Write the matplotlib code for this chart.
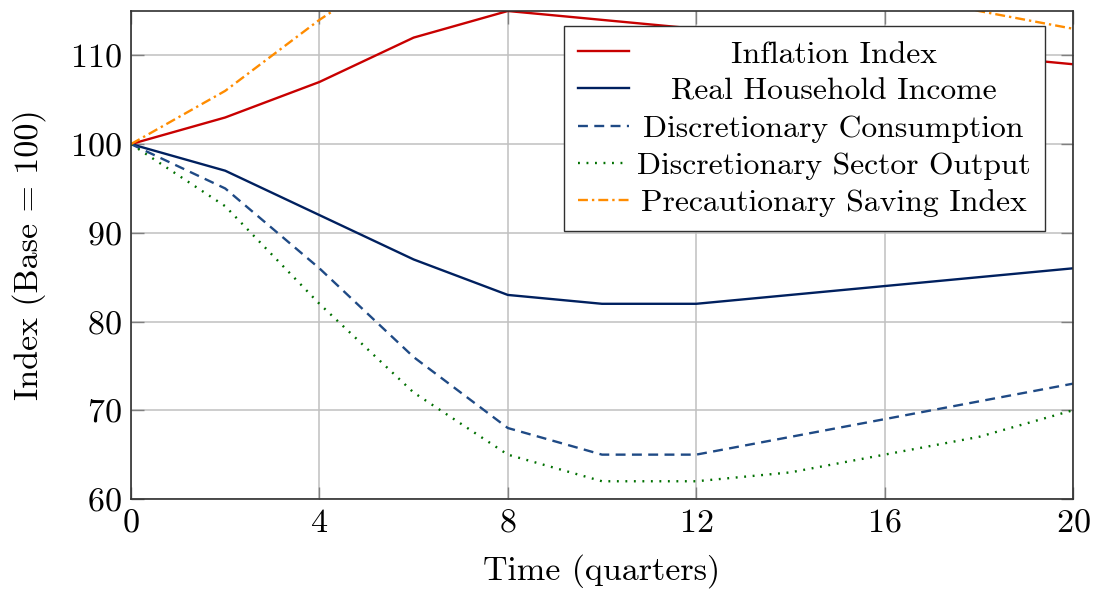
import matplotlib
matplotlib.use("Agg")
import matplotlib.pyplot as plt

# quarters and index values
quarters = [0, 2, 4, 6, 8, 10, 12, 14, 16, 18, 20]
inflation = [100, 103, 107, 112, 115, 114, 113, 112, 111, 110, 109]
real_income = [100, 97, 92, 87, 83, 82, 82, 83, 84, 85, 86]
disc_consumption = [100, 95, 86, 76, 68, 65, 65, 67, 69, 71, 73]
sector_output = [100, 93, 82, 72, 65, 62, 62, 63, 65, 67, 70]
precaution = [100, 106, 114, 121, 125, 126, 125, 122, 118, 115, 113]

plt.rcParams['font.family'] = ['cmr10', 'DejaVu Serif']
plt.rcParams['mathtext.fontset'] = 'cm'
plt.rcParams['axes.formatter.use_mathtext'] = True
plt.rcParams['font.size'] = 24.5

fig = plt.figure(figsize=(10.93, 5.90), dpi=100)
ax = fig.add_axes([131 / 1093, 91 / 590, 942 / 1093, 488 / 590])

lw = 1.7
ax.plot(quarters, inflation, color='#c80000', lw=lw, label='Inflation Index')
ax.plot(quarters, real_income, color='#00205f', lw=lw, label='Real Household Income')
ax.plot(quarters, disc_consumption, color='#1f4a85', lw=lw, ls=(0, (4.2, 2.7)),
        label='Discretionary Consumption')
ax.plot(quarters, sector_output, color='#007000', lw=lw, ls=(0, (0.8, 2.8)),
        label='Discretionary Sector Output')
ax.plot(quarters, precaution, color='#ff8c00', lw=lw, ls=(0, (4.2, 1.7, 1, 1.7)),
        label='Precautionary Saving Index')

ax.set_xlim(0, 20)
ax.set_ylim(60, 115)
ax.set_xticks([0, 4, 8, 12, 16, 20])
ax.set_yticks([60, 70, 80, 90, 100, 110])
ax.grid(True, color='#c0c0c0', lw=1.1)
ax.set_axisbelow(True)
ax.tick_params(direction='in', length=9, width=1.0, color='#808080',
               top=True, right=True, pad=7)
for s in ax.spines.values():
    s.set_color('#303030')
    s.set_linewidth(1.2)

ax.set_xlabel('Time (quarters)', labelpad=12)
ax.set_ylabel('Index (Base = 100)', labelpad=17)

leg = ax.legend(loc='upper right', bbox_to_anchor=(0.970, 0.969), borderaxespad=0,
                fancybox=False, edgecolor='#303030', framealpha=1, fontsize=22.8,
                handlelength=1.6, handletextpad=0.25, labelspacing=0.28,
                borderpad=0.45)
leg.get_frame().set_linewidth(1.0)

# centre legend entries like pgfplots
fig.canvas.draw()
renderer = fig.canvas.get_renderer()
widths = [t.get_window_extent(renderer).width for t in leg.get_texts()]
maxw = max(widths)
for t, w in zip(leg.get_texts(), widths):
    t.set_position(((maxw - w) / 2, 0))

fig.savefig('out.png', dpi=100)
